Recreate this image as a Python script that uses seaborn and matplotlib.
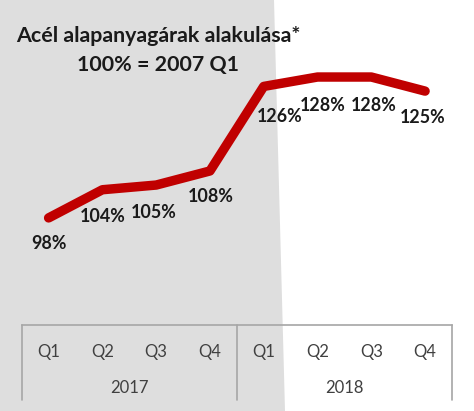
import matplotlib
matplotlib.use("Agg")
import matplotlib.pyplot as plt
import matplotlib.transforms as mtransforms
from matplotlib.patches import Polygon
import seaborn as sns
import pandas as pd
import numpy as np

# ---- data ----
quarters = ["Q1", "Q2", "Q3", "Q4", "Q1", "Q2", "Q3", "Q4"]
years = ["2017", "2018"]
values = [98, 104, 105, 108, 126, 128, 128, 125]
labels = ["98%", "104%", "105%", "108%", "126%", "128%", "128%", "125%"]
title_lines = ["Acél alapanyagárak alakulása*", "100% = 2007 Q1"]

# label offsets in pixels (dx, dy) below each point
label_offsets = [(0, -26), (0, -27), (-2, -27), (1, -26), (16, -30), (5, -28), (2, -28), (-2, -26)]

sns.set_theme(style="white")
plt.rcParams["font.family"] = ["Lato", "DejaVu Sans"]

W, H = 474, 411
fig = plt.figure(figsize=(W / 100, H / 100), dpi=100)
fig.patch.set_facecolor("white")

# gray background band on the left
bg = Polygon([(0, 1), (274 / W, 1), (285 / W, 0), (0, 0)], closed=True,
             transform=fig.transFigure, facecolor="#dedede", edgecolor="none", zorder=-10)
fig.patches.append(bg)

left_px, right_px = 21.7, 452.0
bottom_px = 325.0
ax = fig.add_axes([left_px / W, (H - bottom_px) / H, (right_px - left_px) / W, bottom_px / H])
ax.set_zorder(2)
ax.set_facecolor("none")
ax.patch.set_alpha(0)

df = pd.DataFrame({"pos": np.arange(len(values)), "value": values})
sns.lineplot(data=df, x="pos", y="value", ax=ax, color="#c00000", linewidth=6.8,
             solid_capstyle="round", solid_joinstyle="round", zorder=3)

ax.set_xlim(-0.5, len(values) - 0.5)
ax.set_ylim(75.2, 144.4)
ax.set_xlabel("")
ax.set_ylabel("")
ax.set_yticks([])
ax.set_xticks(np.arange(len(values)))
ax.set_xticklabels(quarters, fontsize=12, color="#404040")
ax.tick_params(axis="x", length=0, pad=14)

for s in ["top", "left", "right"]:
    ax.spines[s].set_visible(False)
ax.spines["bottom"].set_color("#a6a6a6")
ax.spines["bottom"].set_linewidth(1.2)

# data labels
for i, (v, lab, (dx, dy)) in enumerate(zip(values, labels, label_offsets)):
    ax.annotate(lab, (i, v), xytext=(dx, dy), textcoords="offset pixels",
                ha="center", va="center", fontsize=12.9, fontweight="bold", color="#1a1a1a")

# category box vertical separators and year labels
trans = mtransforms.blended_transform_factory(ax.transData, ax.transAxes)
depth = -75 / bottom_px
n_per_year = 4
for xb in [-0.5, n_per_year - 0.5, 2 * n_per_year - 0.5]:
    ax.plot([xb, xb], [0, depth], transform=trans, color="#a6a6a6", lw=1.2, clip_on=False)
for k, yr in enumerate(years):
    xc = k * n_per_year + (n_per_year - 1) / 2
    ax.text(xc, -63 / bottom_px, yr, transform=trans, ha="center", va="center",
            fontsize=12, color="#404040")

# title
tx = 158 / W
fig.text(tx, 1 - 36 / H, title_lines[0], ha="center", va="center", fontsize=15.4,
         fontweight="bold", color="#1a1a1a")
fig.text(tx, 1 - 65 / H, title_lines[1], ha="center", va="center", fontsize=15.4,
         fontweight="bold", color="#1a1a1a")

fig.savefig("out.png", dpi=100)
